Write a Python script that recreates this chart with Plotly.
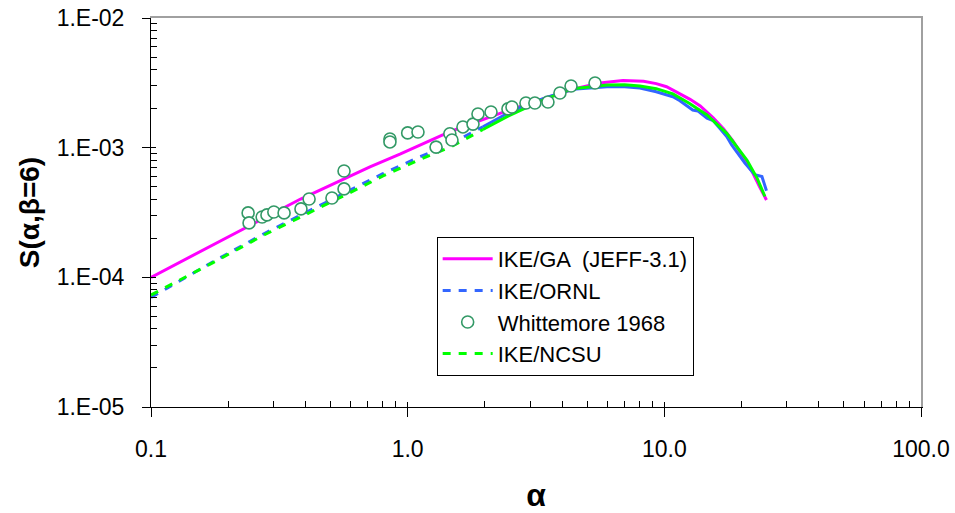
import plotly.graph_objects as go

# ---------------- data ----------------
ga_x = [0.1, 0.228, 0.381, 0.713, 0.933, 1.462, 2.289, 3.0, 3.585, 4.4, 5.6, 6.9, 8.3, 9.3,
        10.2, 11.5, 12.6, 13.8, 15.5, 17.0, 18.5, 20.0, 22.1, 23.5, 25.0]
ga_y = [1.0e-4, 2.35e-4, 4.0e-4, 7.1e-4, 8.9e-4, 1.33e-3, 1.84e-3, 2.2e-3, 2.47e-3, 2.82e-3,
        3.15e-3, 3.3e-3, 3.25e-3, 3.12e-3, 2.95e-3, 2.62e-3, 2.36e-3, 2.1e-3, 1.7e-3,
        1.4e-3, 1.13e-3, 8.9e-4, 6.4e-4, 5.0e-4, 3.95e-4]

ornl_x = [0.1, 0.1745, 0.273, 0.348, 0.468, 0.596, 0.801, 1.116, 1.48, 1.965, 2.46, 3.0, 3.6,
          4.4, 5.98, 7.0, 8.03, 9.3, 10.8, 11.5, 12.9, 13.5, 14.66, 15.5, 16.0, 17.5, 18.3,
          20.6, 22.5, 24.0, 25.0]
ornl_y = [7.0e-5, 1.32e-4, 2.15e-4, 2.75e-4, 3.7e-4, 4.7e-4, 6.3e-4, 8.5e-4, 1.08e-3, 1.45e-3,
          1.85e-3, 2.2e-3, 2.5e-3, 2.82e-3, 2.95e-3, 2.95e-3, 2.88e-3, 2.7e-3, 2.47e-3, 2.3e-3,
          1.95e-3, 1.92e-3, 1.69e-3, 1.62e-3, 1.5e-3, 1.22e-3, 1.05e-3, 7.6e-4, 6.2e-4, 6.0e-4,
          4.66e-4]

ncsu_x = [0.1, 0.1745, 0.273, 0.348, 0.468, 0.596, 0.801, 1.116, 1.48, 1.965, 2.46, 3.0, 3.3,
          4.4, 5.98, 7.0, 8.03, 9.3, 10.8, 12.5, 14.66, 17.5, 21.0, 23.0, 24.65]
ncsu_y = [7.3e-5, 1.3e-4, 2.1e-4, 2.65e-4, 3.55e-4, 4.5e-4, 6.05e-4, 8.1e-4, 1.02e-3, 1.38e-3,
          1.75e-3, 2.1e-3, 2.3e-3, 2.85e-3, 3.04e-3, 3.05e-3, 2.99e-3, 2.85e-3, 2.6e-3, 2.2e-3,
          1.79e-3, 1.29e-3, 8.0e-4, 5.8e-4, 4.2e-4]

whit_x = [0.239, 0.241, 0.271, 0.283, 0.301, 0.330, 0.384, 0.413, 0.507, 0.565, 0.565, 0.853,
          0.853, 1.00, 1.097, 1.29, 1.46, 1.488, 1.642, 1.797, 1.879, 2.112, 2.459, 2.549, 2.89,
          3.13, 3.52, 3.92, 4.33, 5.37]
whit_y = [3.14e-4, 2.63e-4, 2.92e-4, 3.03e-4, 3.19e-4, 3.14e-4, 3.37e-4, 4.02e-4, 4.09e-4,
          6.61e-4, 4.81e-4, 1.167e-3, 1.107e-3, 1.30e-3, 1.32e-3, 1.01e-3, 1.28e-3, 1.146e-3,
          1.445e-3, 1.52e-3, 1.82e-3, 1.885e-3, 1.99e-3, 2.06e-3, 2.21e-3, 2.21e-3, 2.25e-3,
          2.64e-3, 2.99e-3, 3.15e-3]

x_tick_vals = [0.1, 1, 10, 100]
x_tick_text = ["0.1", "1.0", "10.0", "100.0"]
y_tick_vals = [1e-5, 1e-4, 1e-3, 1e-2]
y_tick_text = ["1.E-05", "1.E-04", "1.E-03", "1.E-02"]

DASH_END = 2.0  # beyond this alpha the dashed series look solid in the original

FONT = "Liberation Sans, Arial, sans-serif"
MAGENTA = "#FF00FF"
BLUE = "#3366FF"
GREEN = "#00FF00"
SEA = "#339966"


def split(xs, ys, cut):
    a = [(x, y) for x, y in zip(xs, ys) if x <= cut]
    b = [(x, y) for x, y in zip(xs, ys) if x >= cut]
    if b and a and b[0][0] != a[-1][0]:
        b = [a[-1]] + b
    return [p[0] for p in a], [p[1] for p in a], [p[0] for p in b], [p[1] for p in b]


fig = go.Figure()

fig.add_trace(go.Scatter(x=ga_x, y=ga_y, mode="lines", name="IKE/GA  (JEFF-3.1)",
                         line=dict(color=MAGENTA, width=3), legendrank=1))

ox1, oy1, ox2, oy2 = split(ornl_x, ornl_y, DASH_END)
fig.add_trace(go.Scatter(x=ox1, y=oy1, mode="lines", name="IKE/ORNL", legendgroup="ornl",
                         line=dict(color=BLUE, width=3, dash="8px,8px"), legendrank=2))
fig.add_trace(go.Scatter(x=ox2, y=oy2, mode="lines", name="IKE/ORNL", legendgroup="ornl",
                         showlegend=False, line=dict(color=BLUE, width=3)))

nx1, ny1, nx2, ny2 = split(ncsu_x, ncsu_y, DASH_END)
fig.add_trace(go.Scatter(x=nx1, y=ny1, mode="lines", name="IKE/NCSU", legendgroup="ncsu",
                         line=dict(color=GREEN, width=3, dash="8px,8px"), legendrank=4))
fig.add_trace(go.Scatter(x=nx2, y=ny2, mode="lines", name="IKE/NCSU", legendgroup="ncsu",
                         showlegend=False, line=dict(color=GREEN, width=3)))

fig.add_trace(go.Scatter(x=whit_x, y=whit_y, mode="markers", name="Whittemore 1968",
                         marker=dict(symbol="circle", size=12, color="white",
                                     line=dict(color=SEA, width=1.6)), legendrank=3))

# overlay axes used only for the grey frame and inward halves of the major ticks
fig.add_trace(go.Scatter(x=[0.1], y=[1e-4], xaxis="x2", yaxis="y2", mode="markers",
                         marker=dict(opacity=0), showlegend=False, hoverinfo="skip"))
fig.add_trace(go.Scatter(x=[0.1], y=[1e-4], xaxis="x3", yaxis="y3", mode="markers",
                         marker=dict(opacity=0), showlegend=False, hoverinfo="skip"))

minor_x = [m * 10 ** e for e in (-1, 0, 1) for m in range(2, 10)]
minor_y = [m * 10 ** e for e in (-5, -4, -3) for m in range(2, 10)]

TICK_FONT = dict(family=FONT, size=23, color="black")

fig.update_layout(
    width=955, height=513,
    margin=dict(l=151, r=34, t=18, b=106),
    paper_bgcolor="white", plot_bgcolor="white",
    font=dict(family=FONT, color="black"),
    showlegend=True,
    legend=dict(x=0.371, y=0.437, xanchor="left", yanchor="top",
                bordercolor="black", borderwidth=1, bgcolor="white",
                font=dict(family=FONT, size=22, color="black"),
                itemwidth=50, tracegroupgap=0),
    xaxis=dict(type="log", range=[-1, 2], showgrid=False, zeroline=False, automargin=False,
               showline=True, linecolor="black", linewidth=1,
               tickmode="array", tickvals=x_tick_vals, ticktext=x_tick_text,
               ticks="outside", ticklen=9, tickcolor="black", tickwidth=1,
               ticklabelstandoff=12, tickfont=TICK_FONT,
               minor=dict(tickmode="array", tickvals=minor_x, ticks="inside",
                          ticklen=6, tickcolor="black", tickwidth=1, showgrid=False),
               title=dict(text="<b>α</b>", font=dict(family=FONT, size=32, color="black"),
                          standoff=28)),
    yaxis=dict(type="log", range=[-5, -2], showgrid=False, zeroline=False, automargin=False,
               showline=True, linecolor="black", linewidth=1,
               tickmode="array", tickvals=y_tick_vals, ticktext=y_tick_text,
               ticks="outside", ticklen=8, tickcolor="black", tickwidth=1,
               ticklabelstandoff=13, tickfont=TICK_FONT,
               minor=dict(tickmode="array", tickvals=minor_y, ticks="inside",
                          ticklen=6, tickcolor="black", tickwidth=1, showgrid=False),
               title=dict(text="<b>S(α,β=6)</b>", font=dict(family=FONT, size=28, color="black"),
                          standoff=8)),
    xaxis2=dict(type="log", range=[-1, 2], overlaying="x", side="top", anchor="y2",
                automargin=False,
                showgrid=False, zeroline=False, showline=True, linecolor="#A0A0A0",
                linewidth=2, ticks="", showticklabels=False),
    yaxis2=dict(type="log", range=[-5, -2], overlaying="y", side="right", anchor="x2",
                automargin=False,
                showgrid=False, zeroline=False, showline=True, linecolor="#A0A0A0",
                linewidth=2, ticks="", showticklabels=False),
    xaxis3=dict(type="log", range=[-1, 2], overlaying="x", side="bottom", anchor="y",
                automargin=False,
                showgrid=False, zeroline=False, showline=False,
                tickmode="array", tickvals=x_tick_vals, ticks="inside", ticklen=5,
                tickcolor="black", showticklabels=False),
    yaxis3=dict(type="log", range=[-5, -2], overlaying="y", side="left", anchor="x",
                automargin=False,
                showgrid=False, zeroline=False, showline=False,
                tickmode="array", tickvals=y_tick_vals, ticks="inside", ticklen=5,
                tickcolor="black", showticklabels=False),
)

fig.write_html("out.html")
